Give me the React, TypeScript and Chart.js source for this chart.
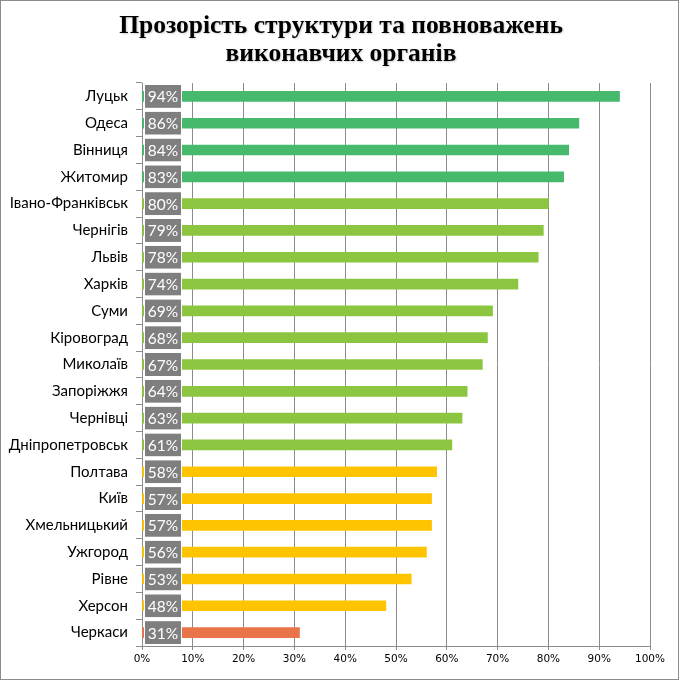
import React, { useEffect, useRef } from 'react';
import Chart from 'chart.js/auto';

const cities = [
    'Луцьк', 'Одеса', 'Вінниця', 'Житомир', 'Івано-Франківськ', 'Чернігів', 'Львів',
    'Харків', 'Суми', 'Кіровоград', 'Миколаїв', 'Запоріжжя', 'Чернівці', 'Дніпропетровськ',
    'Полтава', 'Київ', 'Хмельницький', 'Ужгород', 'Рівне', 'Херсон', 'Черкаси',
];
const scores = [94, 86, 84, 83, 80, 79, 78, 74, 69, 68, 67, 64, 63, 61, 58, 57, 57, 56, 53, 48, 31];
const xTicks = [0, 10, 20, 30, 40, 50, 60, 70, 80, 90, 100];
const titleLines = ['Прозорість структури та повноважень', 'виконавчих органів'];

const barColor = (v: number) => {
    if (v >= 83) return '#46b96c';
    if (v >= 60) return '#8cc640';
    if (v >= 40) return '#ffc400';
    return '#e9744a';
};

// заголовок з легкою тінню
const shadowTitle = {
    id: 'shadowTitle',
    afterDraw(chart: Chart) {
        const { ctx } = chart;
        ctx.save();
        ctx.font = 'bold 25.5px "Liberation Serif"';
        ctx.textAlign = 'center';
        ctx.textBaseline = 'middle';
        ctx.shadowColor = 'rgba(0,0,0,0.18)';
        ctx.shadowOffsetX = 1;
        ctx.shadowOffsetY = 1;
        ctx.shadowBlur = 2;
        ctx.fillStyle = '#000000';
        titleLines.forEach((line, i) => {
            ctx.fillText(line, 341, 26 + i * 28);
        });
        ctx.restore();
    },
};

// сірі плашки з відсотками біля початку смуг
const boxLabels = {
    id: 'boxLabels',
    afterDatasetsDraw(chart: Chart) {
        const { ctx } = chart;
        const x0 = chart.scales.x.getPixelForValue(0);
        const meta = chart.getDatasetMeta(0);
        ctx.save();
        ctx.font = '15.5px Lato';
        ctx.textAlign = 'center';
        ctx.textBaseline = 'middle';
        meta.data.forEach((bar: any, i: number) => {
            const y = bar.y;
            ctx.fillStyle = '#7f7f7f';
            ctx.fillRect(x0 + 3, y - 11.5, 36, 23);
            ctx.strokeStyle = '#ffffff';
            ctx.lineWidth = 1;
            ctx.strokeRect(x0 + 2.5, y - 12, 37, 24);
            ctx.fillStyle = '#ffffff';
            ctx.fillText(scores[i] + '%', x0 + 21, y + 1);
        });
        ctx.restore();
    },
};

export default function App() {
    const chartRef = useRef<HTMLCanvasElement>(null);

    useEffect(() => {
        document.body.style.margin = '0';
        if (!chartRef.current) return;
        const chart = new Chart(chartRef.current, {
            type: 'bar',
            data: {
                labels: cities,
                datasets: [
                    {
                        data: scores,
                        backgroundColor: scores.map(barColor),
                        barThickness: 10,
                    },
                ],
            },
            options: {
                indexAxis: 'y',
                animation: false,
                responsive: false,
                layout: { padding: { left: 0, right: 31, top: 83, bottom: 0 } },
                plugins: {
                    legend: { display: false },
                    tooltip: { enabled: false },
                    title: { display: false },
                },
                scales: {
                    x: {
                        min: 0,
                        max: 100,
                        afterBuildTicks: (scale: any) => {
                            scale.ticks = xTicks.map((v) => ({ value: v }));
                        },
                        afterFit: (scale: any) => {
                            scale.height = 35;
                        },
                        ticks: {
                            callback: (v: any) => v + '%',
                            color: '#000000',
                            font: { family: 'DejaVu Sans', size: 10.5 },
                            padding: 3,
                        },
                        grid: { color: '#8c8c8c', tickLength: 4, lineWidth: 1 },
                        border: { color: '#8c8c8c' },
                    },
                    y: {
                        afterFit: (scale: any) => {
                            scale.width = 142;
                        },
                        ticks: {
                            color: '#000000',
                            font: { family: 'Lato', size: 15 },
                            padding: 8,
                        },
                        grid: { offset: true, drawOnChartArea: false, color: '#8c8c8c', tickLength: 6 },
                        border: { color: '#8c8c8c' },
                    },
                },
            },
            plugins: [boxLabels, shadowTitle],
        });
        return () => {
            chart.destroy();
        };
    }, []);

    return (
        <div style={{ width: 679, height: 680, border: '1px solid #8c8c8c', boxSizing: 'border-box', position: 'relative' }}>
            <canvas ref={chartRef} width={681} height={681} style={{ position: 'absolute', left: -1, top: -1 }} />
        </div>
    );
}
